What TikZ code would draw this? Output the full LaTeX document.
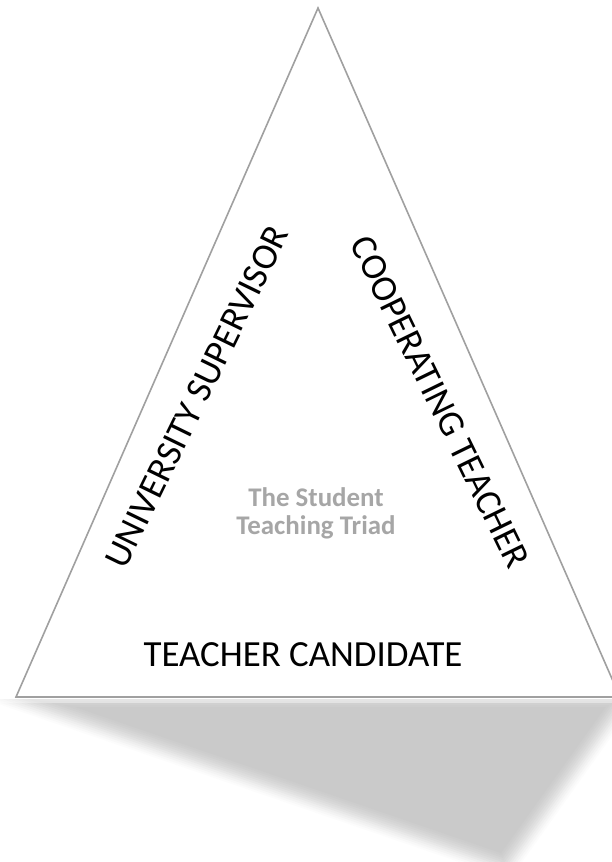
\documentclass[tikz,border=0pt]{standalone}
\usepackage{fontspec}
\setmainfont{Carlito}
\usetikzlibrary{calc}
\definecolor{shad}{HTML}{CACACA}
\definecolor{edgec}{HTML}{A0A0A0}
\definecolor{triadc}{HTML}{A6A6A6}
\tikzset{
  role/.style={font=\fontsize{37}{44}\selectfont, inner sep=0pt, text=black},
  triadtxt/.style={font=\fontsize{27}{28}\selectfont\bfseries, text=triadc, align=center, inner sep=0pt},
}
\begin{document}
\begin{tikzpicture}[x=1bp,y=-1bp]
\useasboundingbox (0,0) rectangle (612,862);
\coordinate (A) at (318,8);
\coordinate (B) at (16,697);
\coordinate (C) at (620,697);
% shadow outline (outer) and inset (inner) vertices
\coordinate (S1) at (15,697);
\coordinate (S2) at (625,697);
\coordinate (S3) at (505,865);
\coordinate (T1) at (75,707);
\coordinate (T2) at (605.6,707);
\coordinate (T3) at (501,853);
\begin{scope}
  \clip (-20,699) rectangle (640,880);
  \foreach \t/\c in {-1.2/6,-1.0/13,-0.8/22,-0.6/32,-0.4/43,-0.2/54,0/64,0.2/73,0.4/81,0.6/88,0.8/95,1.0/100} {
    \fill[shad!\c] ($(S1)!\t!(T1)$) -- ($(S2)!\t!(T2)$) -- ($(S3)!\t!(T3)$) -- cycle;
  }
  \fill[white, opacity=0.35] (0,698) rectangle (640,703);
\end{scope}
% triangle
\filldraw[fill=white, draw=edgec, line width=1.6bp, line join=miter] (A) -- (B) -- (C) -- cycle;
% labels
\node[role, rotate=64] (us) at (197,397) {UNIVERSITY SUPERVISOR};
\node[role, rotate=-64] (ct) at (440,402) {COOPERATING TEACHER};
\node[role] (tc) at (303,655) {TEACHER CANDIDATE};
\node[triadtxt] (tr) at (316,513) {The Student\\Teaching Triad};
\end{tikzpicture}
\end{document}
